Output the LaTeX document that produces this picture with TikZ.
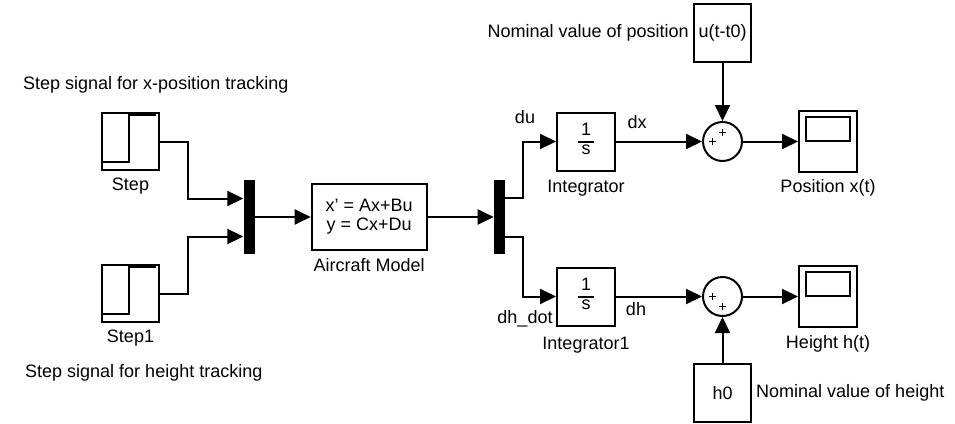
\documentclass[tikz,border=0pt]{standalone}
\usepackage{fontspec}
\setmainfont{Liberation Sans}
\usetikzlibrary{arrows.meta, positioning}
\setlength\arrayrulewidth{1.8pt}
\newcommand\oneovers{{\renewcommand\arraystretch{0.9}\begin{tabular}{@{\,}c@{\,}}1\\\hline s\end{tabular}}}

\begin{document}
\begin{tikzpicture}[
        x=1pt, y=-1pt,
        every node/.style={font=\fontsize{18}{19}\selectfont},
        block/.style={rectangle, draw, line width=2pt, minimum width=58pt, minimum height=58pt, inner sep=0pt},
        bar/.style={rectangle, fill=black, minimum width=11pt, minimum height=74pt, inner sep=0pt},
        sumnode/.style={circle, draw, line width=2pt, minimum size=39pt, inner sep=0pt},
        lbl/.style={inner sep=0pt},
        arrow/.style={-{Triangle[length=16pt, width=15pt]}, line width=2pt}
    ]
        \useasboundingbox (0,0) rectangle (955,423);

        % Nodes
        \node[block, minimum width=57pt, minimum height=57pt] (step) at (130.5,141.5) {};
        \node[block, minimum width=57pt, minimum height=57pt, below=93pt of step] (step1) {};
        \node[bar] (mux) at (249,217) {};
        \node[block, minimum width=115pt, minimum height=66pt, align=center, right=56pt of mux] (model) {x' = Ax+Bu\\ y = Cx+Du};
        \node[bar, right=66pt of model] (demux) {};
        \node[block] (integ) at (586,141.5) {\oneovers};
        \node[block, below=95pt of integ] (integ1) {\oneovers};
        \node[sumnode, right=86pt of integ] (sum1) {};
        \node[sumnode, right=86pt of integ1] (sum2) {};
        \node[block, minimum height=61pt, right=55pt of sum1] (scope1) {};
        \node[block, minimum height=61pt, right=55pt of sum2] (scope2) {};
        \node[block, minimum width=57pt, above=58pt of sum1] (ref) {u(t-t0)};
        \node[block, minimum width=57pt, below=46pt of sum2] (h0) {h0};

        % Labels
        \node[lbl, below=7pt of step] (steplbl) {Step};
        \node[lbl, below=7pt of step1] (step1lbl) {Step1};
        \node[lbl, below=7pt of model] (modellbl) {Aircraft Model};
        \node[lbl, below=8pt of integ] (integlbl) {Integrator};
        \node[lbl, below=10pt of integ1] (integ1lbl) {Integrator1};
        \node[lbl, below=6pt of scope1] (scope1lbl) {Position x(t)};
        \node[lbl, below=7pt of scope2] (scope2lbl) {Height h(t)};
        \node[lbl, left=4pt of ref] (reflbl) {Nominal value of position};
        \node[lbl, right=4pt of h0] (h0lbl) {Nominal value of height};
        \node[lbl, anchor=base west] (steptxt) at (23,89.5) {Step signal for x-position tracking};
        \node[lbl, anchor=base west] (step1txt) at (25,377.5) {Step signal for height tracking};
        \node[lbl, anchor=base] (du) at (525,123) {du};
        \node[lbl, anchor=base] (dx) at (637,128) {dx};
        \node[lbl, anchor=base] (dhdot) at (525,323) {dh\_dot};
        \node[lbl, anchor=base] (dh) at (636,315) {dh};

        % Block icons
        \foreach \s in {step, step1}
            \draw[line width=1.6pt] ([shift={(2,50)}]\s.north west) -- ++(26,0) -- ++(0,-47) -- ++(27,0);
        \foreach \s in {scope1, scope2}
            \draw[line width=2pt] ([shift={(8,7)}]\s.north west) rectangle ([shift={(-8,31)}]\s.north east);
        \foreach \s/\dx/\dy in {sum1/0/-9, sum1/-10/0, sum2/-10/0, sum2/0/10}
            \draw[line width=1.6pt] ([shift={(\dx-3.5,\dy)}]\s.center) -- ++(7,0) ([shift={(\dx,\dy-3.5)}]\s.center) -- ++(0,7);

        % Connections
        \draw[arrow] (step.east) -- ++(28,0) |- ([yshift=18.5pt]mux.west);
        \draw[arrow] (step1.east) -- ++(28,0) |- ([yshift=-19.5pt]mux.west);
        \draw[arrow] (mux) -- (model);
        \draw[arrow] (model) -- (demux);
        \draw[arrow] ([yshift=19pt]demux.east) -- ++(18,0) |- (integ.west);
        \draw[arrow] ([yshift=-20pt]demux.east) -- ++(18,0) |- (integ1.west);
        \draw[arrow] (integ) -- (sum1);
        \draw[arrow] (integ1) -- (sum2);
        \draw[arrow] (sum1) -- (scope1);
        \draw[arrow] (sum2) -- (scope2);
        \draw[arrow] (ref) -- (sum1);
        \draw[arrow] (h0) -- (sum2);

    \end{tikzpicture}
\end{document}
